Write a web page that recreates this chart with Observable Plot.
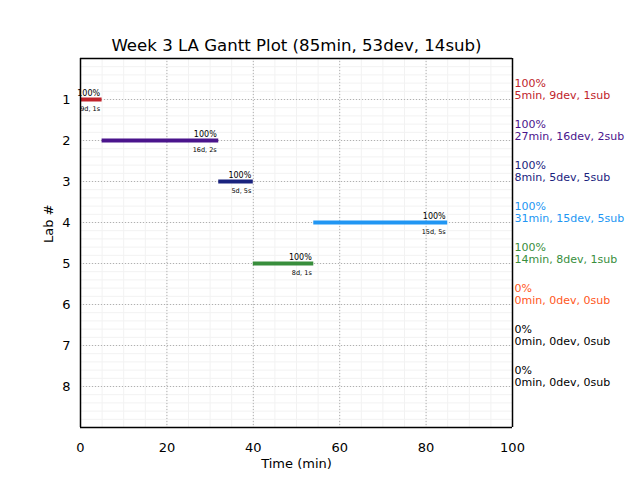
<!DOCTYPE html>
<html><head><meta charset="utf-8">
<script src="https://cdn.jsdelivr.net/npm/d3@7"></script>
<script src="https://cdn.jsdelivr.net/npm/@observablehq/plot@0.6"></script>
<style>body{margin:0;background:#fff}svg{font-family:"DejaVu Sans",sans-serif}</style>
</head><body><div id="chart"></div>
<script>
const labs = [1, 2, 3, 4, 5, 6, 7, 8];
const starts = [0, 5, 32, 54, 40, 0, 0, 0];
const durations = [5, 27, 8, 31, 14, 0, 0, 0];
const devs = [9, 16, 5, 15, 8, 0, 0, 0];
const subs = [1, 2, 5, 5, 1, 0, 0, 0];
const pcts = [100, 100, 100, 100, 100, 0, 0, 0];
const colors = ["#c0232b", "#4a148c", "#1a237e", "#2196f3", "#388e3c", "#ff5722", "#000000", "#000000"];
const xTicks = [0, 20, 40, 60, 80, 100];
const xDomain = [0, 100];
const yDomain = [0, 9];
const title = "Week 3 LA Gantt Plot (85min, 53dev, 14sub)";

const rows = labs.map((lab, i) => ({
  lab, start: starts[i], end: starts[i] + durations[i], dur: durations[i],
  dev: devs[i], sub: subs[i], pct: pcts[i], color: colors[i]
}));
const bars = rows.filter(d => d.dur > 0);

const chart = Plot.plot({
  width: 640, height: 480,
  marginLeft: 80, marginRight: 128, marginTop: 58, marginBottom: 53,
  style: {fontFamily: "DejaVu Sans", background: "white", color: "black"},
  x: {domain: xDomain},
  y: {domain: yDomain, reverse: true},
  color: {type: "identity"},
  marks: [
    Plot.gridX(d3.range(0, 101, 5), {stroke: "#f2f2f2", strokeOpacity: 1}),
    Plot.gridY(d3.range(0, 9.001, 0.2), {stroke: "#f2f2f2", strokeOpacity: 1}),
    Plot.gridX(xTicks, {stroke: "#b0b0b0", strokeOpacity: 1, strokeDasharray: "1,2"}),
    Plot.gridY(labs, {stroke: "#b0b0b0", strokeOpacity: 1, strokeDasharray: "1,2"}),
    Plot.axisX(xTicks, {tickSize: 0, tickPadding: 15, fontSize: 13, fill: "black", label: null}),
    Plot.axisY(labs, {tickSize: 0, tickPadding: 10, fontSize: 13, fill: "black", label: null}),
    Plot.ruleY(bars, {y: "lab", x1: "start", x2: "end", stroke: "color", strokeWidth: 4}),
    Plot.text(bars, {x: "end", y: "lab", text: d => d.pct + "%", textAnchor: "end", dx: -2, dy: -6, fontSize: 8, fill: "black"}),
    Plot.text(bars, {x: "end", y: "lab", text: d => d.dev + "d, " + d.sub + "s", textAnchor: "end", dx: -2, dy: 9, fontSize: 6.5, fill: "black"}),
    Plot.text(rows, {frameAnchor: "right", y: "lab", text: d => d.pct + "%\n" + d.dur + "min, " + d.dev + "dev, " + d.sub + "sub",
      textAnchor: "start", lineAnchor: "bottom", lineHeight: 1.05, dx: 2, dy: -1, fontSize: 11, fill: "color"}),
    Plot.ruleX(xDomain, {x: d => d, stroke: "#000000", strokeOpacity: 1, strokeWidth: 1.5}),
    Plot.ruleY(yDomain, {y: d => d, stroke: "#000000", strokeOpacity: 1, strokeWidth: 1.5}),
    Plot.text([title], {frameAnchor: "top", dy: -19, fontSize: 16.6, fill: "black"}),
    Plot.text(["Time (min)"], {frameAnchor: "bottom", dy: 40, fontSize: 13, fill: "black"}),
    Plot.text(["Lab #"], {frameAnchor: "left", dx: -32, rotate: -90, fontSize: 13, fill: "black"})
  ]
});
document.getElementById("chart").appendChild(chart);
</script></body></html>
